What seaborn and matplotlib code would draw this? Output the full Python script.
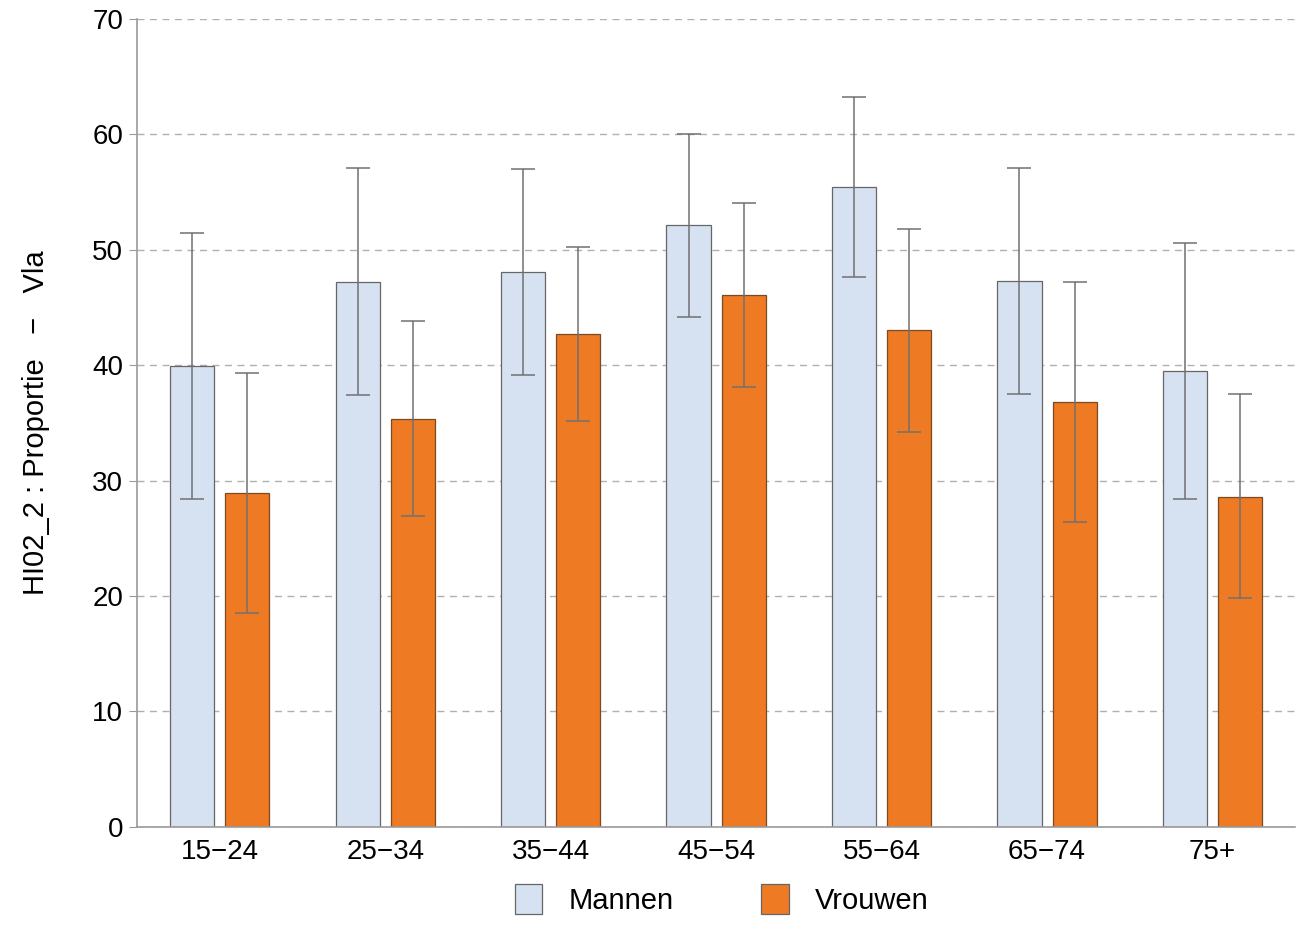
import numpy as np
import pandas as pd
import matplotlib
matplotlib.use("Agg")
import matplotlib.pyplot as plt
import seaborn as sns

# data
age_groups = ["15\u221224", "25\u221234", "35\u221244", "45\u221254", "55\u221264", "65\u221274", "75+"]
mannen = [39.9, 47.2, 48.1, 52.1, 55.4, 47.3, 39.5]
mannen_lo = [28.4, 37.4, 39.1, 44.2, 47.6, 37.5, 28.4]
mannen_hi = [51.4, 57.1, 57.0, 60.0, 63.2, 57.1, 50.6]
vrouwen = [28.9, 35.3, 42.7, 46.1, 43.0, 36.8, 28.6]
vrouwen_lo = [18.5, 26.9, 35.2, 38.1, 34.2, 26.4, 19.8]
vrouwen_hi = [39.3, 43.8, 50.2, 54.0, 51.8, 47.2, 37.5]
genders = ["Mannen", "Vrouwen"]
colors = {"Mannen": "#d6e1f1", "Vrouwen": "#ee7a24"}

df = pd.DataFrame({
    "Leeftijd": age_groups * 2,
    "Proportie": mannen + vrouwen,
    "Geslacht": ["Mannen"] * len(age_groups) + ["Vrouwen"] * len(age_groups),
})
bounds = {"Mannen": (mannen_lo, mannen_hi), "Vrouwen": (vrouwen_lo, vrouwen_hi)}

sns.set_style("white")
plt.rcParams['font.family'] = ['Liberation Sans Narrow', 'Liberation Sans', 'DejaVu Sans']
plt.rcParams['text.color'] = 'black'
plt.rcParams['axes.labelcolor'] = 'black'
plt.rcParams['xtick.color'] = 'black'
plt.rcParams['ytick.color'] = 'black'

fig = plt.figure(figsize=(13.11, 9.36), dpi=100)
ax = fig.add_axes([0.1045, 0.1165, 0.8835, 0.8635])

sns.barplot(data=df, x="Leeftijd", y="Proportie", hue="Geslacht", order=age_groups,
            hue_order=genders, palette=colors, errorbar=None, width=0.667, gap=0.2,
            edgecolor="#666666", linewidth=0.9, saturation=1, ax=ax, zorder=2)

# orange bars get a darker brownish outline
for p in ax.containers[1].patches:
    p.set_edgecolor("#7a4a22")

# error bars placed on the bar centres seaborn drew
for cont, g in zip(ax.containers, genders):
    lo, hi = bounds[g]
    xs = [p.get_x() + p.get_width() / 2 for p in cont.patches]
    hs = [p.get_height() for p in cont.patches]
    yerr = [np.array(hs) - np.array(lo), np.array(hi) - np.array(hs)]
    ax.errorbar(xs, hs, yerr=yerr, fmt="none", ecolor="#707070", elinewidth=1.1,
                capsize=8.5, capthick=1.1, zorder=3)

ax.set_ylim(0, 70)
ax.set_xlim(-0.5, 6.5)
ax.set_yticks(range(0, 71, 10))
ax.yaxis.grid(True, linestyle=(0, (5, 4)), color="#b0b0b0", linewidth=1)
ax.xaxis.grid(False)
ax.set_axisbelow(True)

for s in ["top", "right"]:
    ax.spines[s].set_visible(False)
for s in ["left", "bottom"]:
    ax.spines[s].set_color("#9a9a9a")
    ax.spines[s].set_linewidth(1.2)

ax.tick_params(axis="y", left=True, length=6, color="#9a9a9a", labelcolor="black",
               labelsize=20, pad=4)
ax.tick_params(axis="x", bottom=False, labelcolor="black", labelsize=20, pad=5)
ax.set_xlabel("")
ax.set_ylabel("HI02_2 : Proportie   \u2212   Vla", fontsize=21, labelpad=30)

ax.legend(loc="upper center", bbox_to_anchor=(0.505, -0.038), ncol=2, frameon=False,
          fontsize=21, handlelength=0.95, handleheight=1.2, handletextpad=0.9,
          columnspacing=3.0)

fig.savefig("out.png", dpi=100)
